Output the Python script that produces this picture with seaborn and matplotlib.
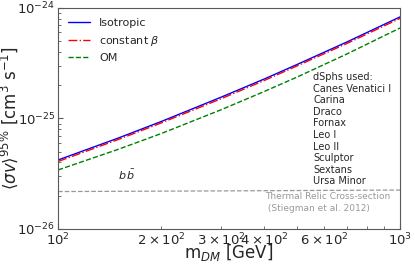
import numpy as np
import pandas as pd
import matplotlib
matplotlib.use('Agg')
import matplotlib.pyplot as plt
import seaborn as sns

# masses (GeV) and 95% upper limits on <sigma v> (cm^3 s^-1)
mass = [100, 150, 200, 300, 400, 500, 700, 1000]
iso = [4.21e-26, 6.65e-26, 9.37e-26, 1.56e-25, 2.27e-25, 3.08e-25, 4.93e-25, 8.30e-25]
beta = [4.08e-26, 6.45e-26, 9.10e-26, 1.51e-25, 2.20e-25, 2.99e-25, 4.78e-25, 8.05e-25]
om = [3.42e-26, 5.26e-26, 7.29e-26, 1.20e-25, 1.75e-25, 2.37e-25, 3.84e-25, 6.59e-25]

relic_mass = [100, 300, 1000]
relic = [2.18e-26, 2.21e-26, 2.25e-26]

dsphs = ['Canes Venatici I', 'Carina', 'Draco', 'Fornax', 'Leo I', 'Leo II',
         'Sculptor', 'Sextans', 'Ursa Minor']

sns.set_style('ticks', {'xtick.direction': 'in', 'ytick.direction': 'in'})
plt.rcParams['font.family'] = ['DejaVu Sans']
plt.rcParams['mathtext.fontset'] = 'dejavusans'

fig, ax = plt.subplots(figsize=(4.15, 2.65), dpi=100)
fig.subplots_adjust(left=0.14, right=0.964, top=0.97, bottom=0.136)

sns.lineplot(x=mass, y=iso, ax=ax, color='blue', lw=1, label='Isotropic')
sns.lineplot(x=mass, y=beta, ax=ax, color='red', lw=1, linestyle='-.', label=r'constant $\beta$')
sns.lineplot(x=mass, y=om, ax=ax, color='green', lw=1, linestyle='--', label='OM')
sns.lineplot(x=relic_mass, y=relic, ax=ax, color='0.6', lw=0.9, linestyle='--')

ax.set_xscale('log')
ax.set_yscale('log')
ax.set_xlim(100, 1000)
ax.set_ylim(1e-26, 1e-24)

for s in ['left', 'bottom', 'right', 'top']:
    ax.spines[s].set_color('0.35')
    ax.spines[s].set_linewidth(0.8)
ax.tick_params(which='both', labelsize=9.5, direction='in', color='0.35', pad=2)

ax.set_xlabel(r'm$_{DM}$ [GeV]', fontsize=12)
ax.set_ylabel(r'$\langle\sigma v\rangle^{95\%}$ [cm$^3$ s$^{-1}$]', fontsize=12)
ax.xaxis.set_label_coords(0.5, -0.06)
ax.yaxis.set_label_coords(-0.11, 0.5)

ax.legend(loc='upper left', frameon=False, fontsize=8)

ax.text(0.746, 0.71, 'dSphs used:\n' + '\n'.join(dsphs), transform=ax.transAxes,
        fontsize=7, va='top', ha='left', linespacing=1.2)
ax.text(0.2, 0.244, r'$b\,\bar{b}$', transform=ax.transAxes, fontsize=8,
        ha='center', va='center')
ax.text(0.605, 0.167, 'Thermal Relic Cross-section\n (Stiegman et al. 2012)',
        transform=ax.transAxes, fontsize=6.5, color='0.6', va='top', ha='left',
        linespacing=1.35)

fig.savefig('out.png', dpi=100)
